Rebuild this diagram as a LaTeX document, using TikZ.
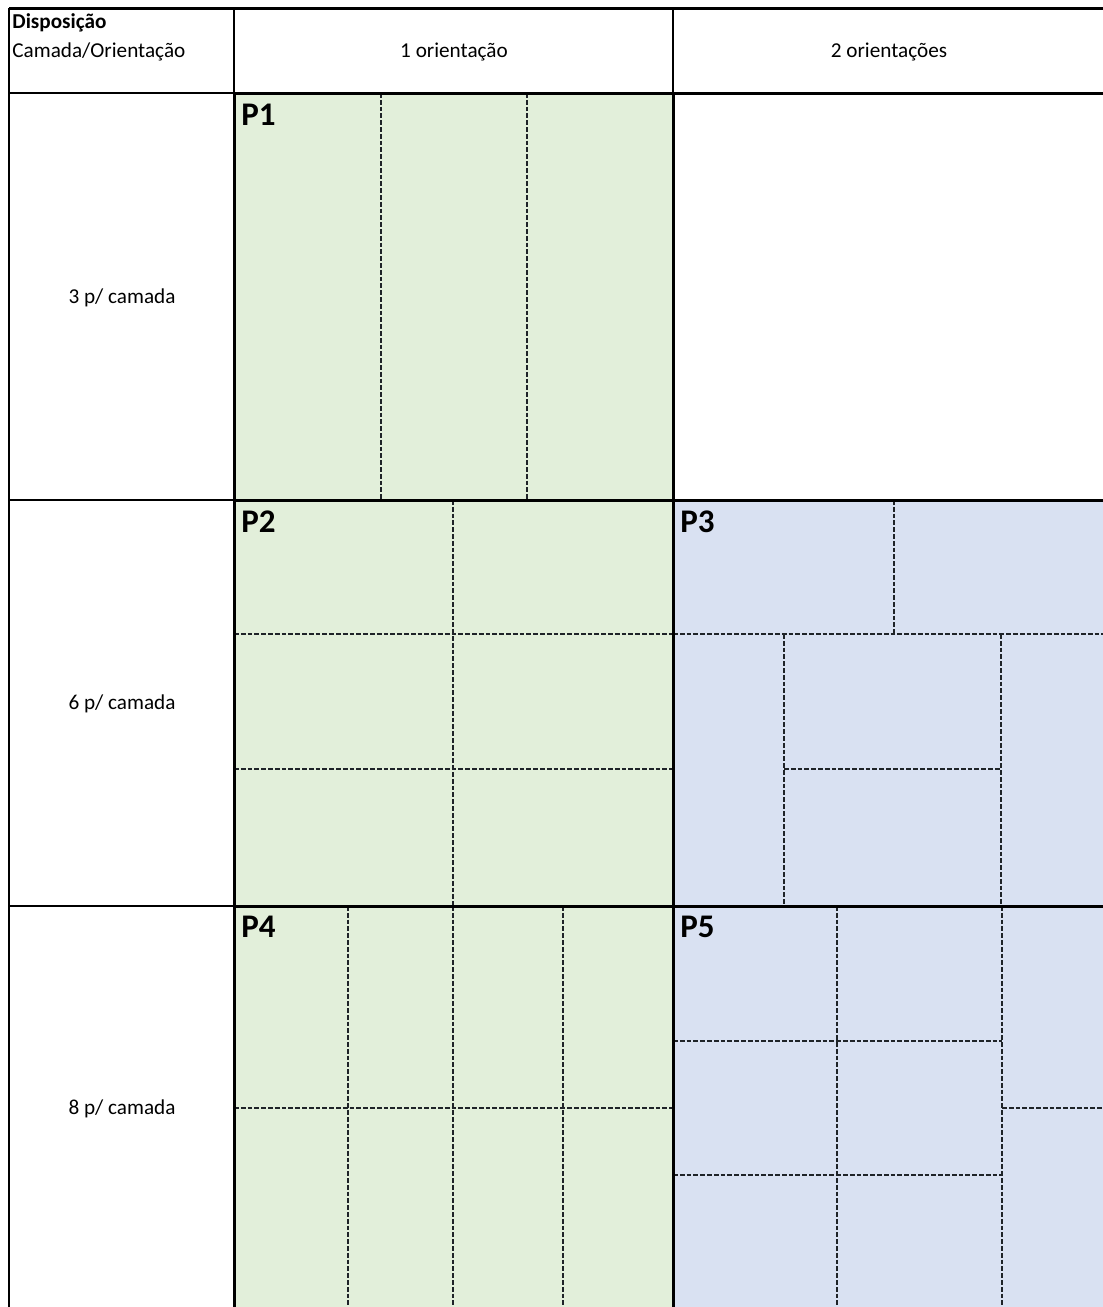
\documentclass[tikz,border=0pt]{standalone}
\usepackage{fontspec}
\setmainfont{Carlito}
\definecolor{cgreen}{HTML}{E2EFDA}
\definecolor{cblue}{HTML}{D9E1F2}
\definecolor{cdash}{HTML}{1F2328}
\begin{document}
\begin{tikzpicture}[x=0.5pt,y=-0.5pt,
  thinline/.style={line width=0.75pt,black},
  thickline/.style={line width=1.5pt,black},
  cut/.style={line width=1pt,cdash,dash pattern=on 2.4pt off 1pt},
  txt/.style={font=\fontsize{10.6pt}{12pt}\selectfont,inner sep=0pt},
  plabel/.style={font=\fontsize{16.5pt}{18pt}\selectfont\bfseries,inner sep=0pt,anchor=north west}]
\useasboundingbox (0,0) rectangle (1103,1307);
\fill[white] (0,0) rectangle (1103,1307);
% coloured areas
\fill[cgreen] (234,93) rectangle (673,1307);
\fill[cblue] (673,500) rectangle (1103,1307);
% P1
\draw[cut] (381,93) -- (381,500);
\draw[cut] (527,93) -- (527,500);
% P2
\draw[cut] (453,500) -- (453,906);
\draw[cut] (234,634) -- (673,634);
\draw[cut] (234,769) -- (673,769);
% P3
\draw[cut] (894,500) -- (894,634);
\draw[cut] (673,634) -- (1103,634);
\draw[cut] (784,634) -- (784,906);
\draw[cut] (1001,634) -- (1001,906);
\draw[cut] (784,769) -- (1001,769);
% P4
\draw[cut] (348,906) -- (348,1307);
\draw[cut] (453,906) -- (453,1307);
\draw[cut] (563,906) -- (563,1307);
\draw[cut] (234,1108) -- (673,1108);
% P5
\draw[cut] (837,906) -- (837,1307);
\draw[cut] (1002,906) -- (1002,1307);
\draw[cut] (673,1041) -- (1002,1041);
\draw[cut] (673,1175) -- (1002,1175);
\draw[cut] (1002,1108) -- (1103,1108);
% grid lines
\draw[thinline] (9,8) -- (9,1307);
\draw[thinline] (234,8) -- (234,93);
\draw[thinline] (673,8) -- (673,93);
\draw[thinline] (9,93) -- (234,93);
\draw[thinline] (9,500) -- (234,500);
\draw[thinline] (9,906) -- (234,906);
\draw[thickline] (9,8) -- (1103,8);
\draw[thickline] (234,93) -- (1103,93);
\draw[thickline] (234,93) -- (234,1307);
\draw[thickline] (673,93) -- (673,1307);
\draw[thickline] (234,500) -- (1103,500);
\draw[thickline] (234,906) -- (1103,906);
% texts
\node[txt,anchor=north west,font=\fontsize{10.6pt}{12pt}\selectfont\bfseries] (disp) at (12,13) {Disposição};
\node[txt,anchor=north west] (camor) at (12,42) {Camada/Orientação};
\node[txt] (or1) at (454,52) {1 orientação};
\node[txt] (or2) at (889,52) {2 orientações};
\node[txt] (r3) at (122,298) {3 p/ camada};
\node[txt] (r6) at (122,704) {6 p/ camada};
\node[txt] (r8) at (122,1109) {8 p/ camada};
\node[plabel] (p1) at (241,104) {P1};
\node[plabel] (p2) at (241,510) {P2};
\node[plabel] (p3) at (680,510) {P3};
\node[plabel] (p4) at (241,916) {P4};
\node[plabel] (p5) at (680,916) {P5};
\end{tikzpicture}
\end{document}
